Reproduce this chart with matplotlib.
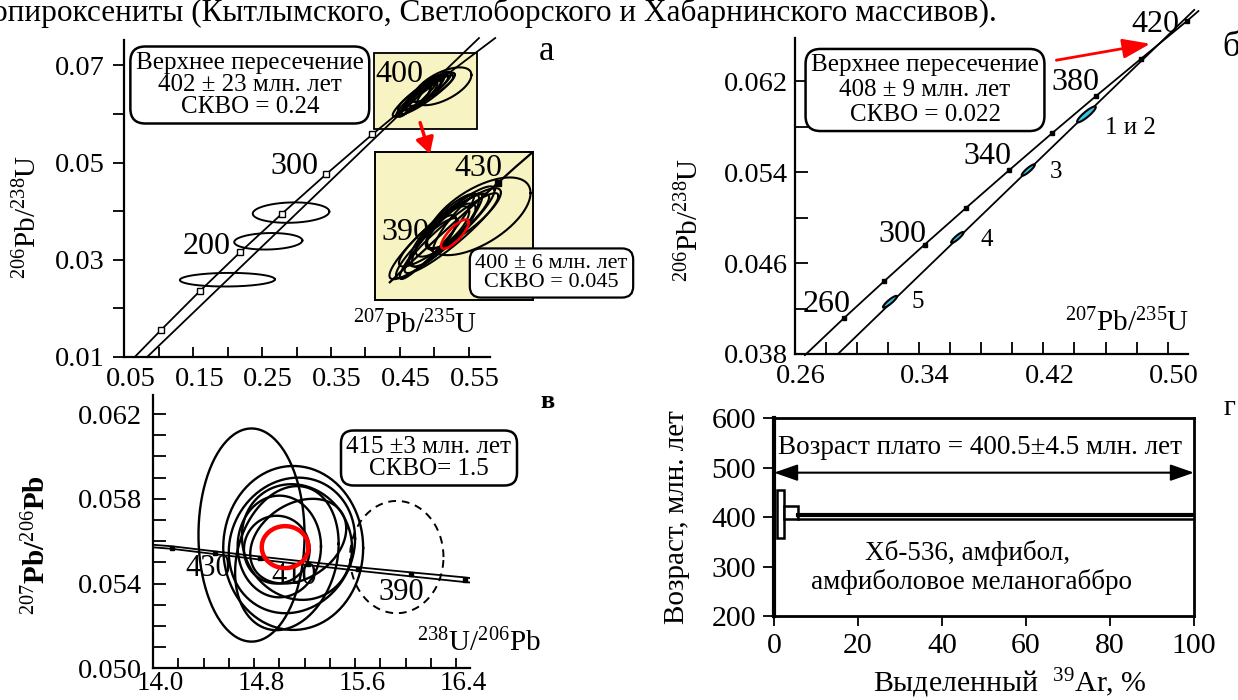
import numpy as np
import matplotlib
matplotlib.use('Agg')
import matplotlib.pyplot as plt
import matplotlib.transforms as mtransforms
from matplotlib.patches import Rectangle, FancyArrowPatch

plt.rcParams['font.family'] = ['Liberation Serif', 'DejaVu Serif']
plt.rcParams['mathtext.fontset'] = 'custom'
plt.rcParams['mathtext.rm'] = 'Liberation Serif'
plt.rcParams['mathtext.it'] = 'Liberation Serif:italic'
plt.rcParams['mathtext.bf'] = 'Liberation Serif:bold'

W, H = 1238, 700

# ---- panel a: concordia 207Pb/235U - 206Pb/238U
conc_a_x = [0.065, 0.1035, 0.1592, 0.2177, 0.2790, 0.3431, 0.4102, 0.4803, 0.5576, 0.5885]
conc_a_y = [0.0100, 0.0156, 0.0235, 0.0315, 0.0395, 0.0476, 0.0558, 0.0640, 0.0723, 0.0756]
conc_a_mark = [1, 2, 3, 4, 5, 6]          # indexes of 100..350 Ma marks
disc_a_x = [0.083, 0.565]
disc_a_y = [0.010, 0.0756]
# low-age zircons (x, sx, y, sy, rho)
ell_a_low = [(0.292, 0.0556, 0.0397, 0.0021, 0.1),
             (0.259, 0.0495, 0.0338, 0.0017, 0.1),
             (0.1996, 0.069, 0.0259, 0.0014, 0.05)]
# cluster near 400 Ma
ell_a_cl = [(0.512, 0.042, 0.06568, 0.00389, 0.6),
            (0.4823, 0.0426, 0.06403, 0.00465, 0.92),
            (0.4839, 0.0365, 0.0643, 0.00365, 0.9),
            (0.4839, 0.0284, 0.0643, 0.00365, 0.85),
            (0.4853, 0.0243, 0.0643, 0.00266, 0.8),
            (0.4867, 0.0176, 0.06453, 0.00216, 0.75),
            (0.478, 0.030, 0.0636, 0.0042, 0.95),
            (0.495, 0.020, 0.0650, 0.0030, 0.9),
            (0.470, 0.025, 0.0625, 0.0030, 0.9),
            (0.500, 0.030, 0.0655, 0.0030, 0.85),
            (0.490, 0.038, 0.0640, 0.0040, 0.93),
            (0.476, 0.018, 0.0632, 0.0026, 0.8)]
ell_a_red = (0.4927, 0.0112, 0.0639, 0.00146, 0.8)
box1 = (0.412, 0.0568, 0.150, 0.0158)
# inset concordia 370..450 Ma
in_x = [0.4400, 0.4539, 0.4685, 0.4829, 0.4975, 0.5123, 0.5273, 0.5424, 0.5576]
in_y = [0.05908, 0.06071, 0.06236, 0.06401, 0.06566, 0.06732, 0.06900, 0.07068, 0.0723]

# ---- panel b
conc_b_x = [0.2667, 0.2918, 0.3175, 0.3437, 0.3705, 0.3978, 0.4255, 0.4539, 0.4829, 0.5123, 0.5197]
conc_b_y = [0.0379, 0.04116, 0.04439, 0.04764, 0.05089, 0.05416, 0.05743, 0.06072, 0.06401, 0.06732, 0.0682]
disc_b_x = [0.2879, 0.517]
disc_b_y = [0.038, 0.0683]
pts_b = [(0.4477, 0.0060, 0.0591, 0.00070, 0.9),
         (0.4103, 0.0042, 0.0542, 0.00050, 0.9),
         (0.3647, 0.0040, 0.04826, 0.00048, 0.9),
         (0.3214, 0.0045, 0.0426, 0.00052, 0.9)]

# ---- panel v: Tera-Wasserburg
tw_x = [14.0, 14.15, 14.49, 14.85, 15.23, 15.62, 16.04, 16.47, 16.51]
tw_y1 = [0.05583, 0.05576, 0.05552, 0.05527, 0.05502, 0.05477, 0.05453, 0.05429, 0.05426]
tw_y2 = [0.05571, 0.05564, 0.05539, 0.05513, 0.05487, 0.05461, 0.05434, 0.05407, 0.05405]
ell_v = [(14.78, 0.42, 0.05629, 0.00503, 0.0),
         (15.11, 0.554, 0.05568, 0.00387, 0.0),
         (15.10, 0.50, 0.0558, 0.0032, 0.1),
         (15.14, 0.436, 0.05596, 0.00273, -0.1),
         (15.06, 0.41, 0.0552, 0.0034, 0.2),
         (15.00, 0.33, 0.05575, 0.0024, 0.0),
         (14.98, 0.26, 0.0556, 0.0016, 0.0),
         (15.15, 0.38, 0.0560, 0.0020, 0.3)]
ell_v_dash = (15.93, 0.37, 0.05525, 0.00265, 0.0)
ell_v_red = (15.046, 0.185, 0.05572, 0.00099, 0.0)

# ---- panel g: Ar-Ar spectrum
ar_start = [0.6, 2.3, 5.6]
ar_end = [2.3, 5.6, 100.0]
age_lo = [357, 396, 396]
age_hi = [455, 423, 405]


def P(x, y):
    return (x / W, 1 - y / H)


def add_ax(l, t, r, b, **kw):
    return fig.add_axes([l / W, 1 - b / H, (r - l) / W, (b - t) / H], **kw)


def outline(x, sx, y, sy, rho):
    t = np.linspace(0, 2 * np.pi, 181)
    return x + sx * np.cos(t), y + sy * (rho * np.cos(t) + np.sqrt(1 - rho ** 2) * np.sin(t))


def ftext(ax, x, y, s, size=21, z=4, **kw):
    ax.text(*P(x, y), s, transform=fig.transFigure, fontsize=size,
            ha=kw.pop('ha', 'center'), va=kw.pop('va', 'center'), zorder=z, **kw)


def shift_xlabels(ax, dx_px):
    off = mtransforms.ScaledTranslation(dx_px / 100, 0, fig.dpi_scale_trans)
    for lab in ax.get_xticklabels():
        lab.set_transform(lab.get_transform() + off)


fig = plt.figure(figsize=(W / 100, H / 100), dpi=100)

fig.text(-8 / W, 1 - 21 / H, 'опироксениты (Кытлымского, Светлоборского и Хабарнинского массивов).',
         fontsize=22.5, va='baseline', ha='left')

# =========== panel a
axa = add_ax(124.4, 40, 490, 357)
axa.set_xlim(0.05, 0.581)
axa.set_ylim(0.01, 0.0752)
for s in ['top', 'right']:
    axa.spines[s].set_visible(False)
for s in ['left', 'bottom']:
    axa.spines[s].set_linewidth(1.6)
axa.set_xticks([0.05, 0.15, 0.25, 0.35, 0.45, 0.55])
axa.set_xticks([0.10, 0.20, 0.30, 0.40, 0.50], minor=True)
axa.set_yticks([0.01, 0.03, 0.05, 0.07])
axa.set_yticks([0.02, 0.04, 0.06], minor=True)
axa.set_xticklabels(['0.05', '0.15', '0.25', '0.35', '0.45', '0.55'])
axa.set_yticklabels(['0.01', '0.03', '0.05', '0.07'])
axa.tick_params(axis='x', which='both', direction='in', length=7, width=1.3, pad=7, labelsize=20.5)
axa.tick_params(axis='y', which='both', direction='out', length=8, width=1.3, pad=6, labelsize=20.5)
shift_xlabels(axa, 6)

axa.add_patch(Rectangle((box1[0], box1[1]), box1[2], box1[3], fc='#f7f3c2', ec='k', lw=1.3, zorder=1))
axa.plot(conc_a_x, conc_a_y, color='k', lw=1.3, zorder=2, clip_on=False)
axa.plot(disc_a_x, disc_a_y, color='k', lw=1.3, zorder=2, clip_on=False)
axa.plot([conc_a_x[i] for i in conc_a_mark], [conc_a_y[i] for i in conc_a_mark], 's',
         ms=5, mfc='white', mec='k', mew=1, zorder=3)
for e in ell_a_low:
    ex, ey = outline(*e)
    axa.plot(ex, ey, color='k', lw=1.4, zorder=3)
for e in ell_a_cl:
    ex, ey = outline(*e)
    axa.plot(ex, ey, color='k', lw=1.5, zorder=3)

ftext(axa, 294, 167, '300', size=23)
ftext(axa, 207, 247, '200', size=23)
ftext(axa, 399, 74, '400', size=23, z=2.5)
ftext(axa, 415, 325, r'$^{207}$Pb/$^{235}$U', size=21)
ftext(axa, 249.8, 85, 'Верхнее пересечение\n402 ± 23 млн. лет\nСКВО = 0.24', size=18,
      linespacing=1.0, bbox=dict(boxstyle='round,pad=0.22,rounding_size=0.6', fc='white', ec='k', lw=1.8))
fig.text(*P(547, 52), 'а', fontsize=25, ha='center', va='center')
fig.text(*P(28, 217), r'$^{206}$Pb/$^{238}$U', fontsize=21, rotation=90, ha='center', va='center')

# inset
axi = add_ax(375, 151.7, 533, 300, facecolor='#f7f3c2')
axi.set_xlim(0.428, 0.556)
axi.set_ylim(0.0573, 0.07215)
axi.set_xticks([])
axi.set_yticks([])
for s in axi.spines.values():
    s.set_linewidth(1.4)
axi.plot(in_x, in_y, color='k', lw=1.6, zorder=2)
axi.plot([in_x[6]], [in_y[6]], 's', ms=4, color='k', zorder=3)
for e in ell_a_cl:
    ex, ey = outline(*e)
    axi.plot(ex, ey, color='k', lw=1.5, zorder=3)
ex, ey = outline(*ell_a_red)
axi.plot(ex, ey, color='red', lw=1.8, zorder=4)
ftext(axi, 478, 168, '430', size=23, z=2.5)
ftext(axi, 405, 233, '390', size=23, z=2.5)

fig.add_artist(FancyArrowPatch(P(419.3, 120), P(430.7, 156.7), transform=fig.transFigure,
                               arrowstyle='-|>,head_length=0.8,head_width=0.45', mutation_scale=12,
                               color='red', lw=2.5))
fig.text(*P(551.5, 273), '400 ± 6 млн. лет\nСКВО = 0.045', fontsize=16, ha='center', va='center',
         linespacing=1.0, zorder=6,
         bbox=dict(boxstyle='round,pad=0.25,rounding_size=0.5', fc='white', ec='k', lw=1.6))

# =========== panel b
axb = add_ax(794.5, 38.3, 1188, 354)
axb.set_xlim(0.26, 0.513)
axb.set_ylim(0.038, 0.0658)
for s in ['top', 'right']:
    axb.spines[s].set_visible(False)
for s in ['left', 'bottom']:
    axb.spines[s].set_linewidth(1.6)
axb.set_xticks([0.26, 0.34, 0.42, 0.50])
axb.set_xticks([0.28, 0.30, 0.32, 0.36, 0.38, 0.40, 0.44, 0.46, 0.48], minor=True)
axb.set_xticklabels(['0.26', '0.34', '0.42', '0.50'])
axb.set_yticks([0.038, 0.046, 0.054, 0.062])
axb.set_yticks([0.042, 0.050, 0.058], minor=True)
axb.set_yticklabels(['0.038', '0.046', '0.054', '0.062'])
axb.tick_params(axis='x', which='both', direction='in', length=9, width=1.3, pad=7, labelsize=20.5)
axb.tick_params(axis='y', which='both', direction='in', length=9, width=1.3, pad=5, labelsize=20.5)
shift_xlabels(axb, 6)
axb.plot(conc_b_x, conc_b_y, color='k', lw=1.3, clip_on=False, zorder=2)
axb.plot(disc_b_x, disc_b_y, color='k', lw=1.3, clip_on=False, zorder=2)
axb.plot(conc_b_x[1:-1], conc_b_y[1:-1], 's', ms=3.5, color='k', clip_on=False, zorder=3)
for e in pts_b:
    ex, ey = outline(*e)
    axb.fill(ex, ey, fc='#33c6e8', ec='k', lw=1.5, zorder=4)
for x, y, s in [(1155, 25, '420'), (1075, 83, '380'), (987, 157, '340'), (902, 234, '300'), (827, 305, '260')]:
    ftext(axb, x, y, s, size=23)
for x, y, s in [(1130, 128, '1 и 2'), (1056, 172, '3'), (987, 240, '4'), (918, 302, '5')]:
    ftext(axb, x, y, s, size=18)
ftext(axb, 1127, 323, r'$^{207}$Pb/$^{235}$U', size=21)
ftext(axb, 925, 90, 'Верхнее пересечение\n408 ± 9 млн. лет\nСКВО = 0.022', size=18,
      linespacing=1.15, bbox=dict(boxstyle='round,pad=0.22,rounding_size=0.6', fc='white', ec='k', lw=1.8))
fig.add_artist(FancyArrowPatch(P(1053.6, 60.7), P(1153, 43.3), transform=fig.transFigure,
                               arrowstyle='-|>,head_length=1.4,head_width=0.5', mutation_scale=12,
                               color='red', lw=2))
fig.text(1222 / W, 1 - 47 / H, 'б', fontsize=25, ha='left', va='center')
fig.text(*P(690, 220), r'$^{206}$Pb/$^{238}$U', fontsize=21, rotation=90, ha='center', va='center')

# =========== panel v
axv = add_ax(153, 395, 470, 668.3)
axv.set_xlim(14.0, 16.51)
axv.set_ylim(0.050, 0.0629)
for s in ['top', 'right']:
    axv.spines[s].set_visible(False)
for s in ['left', 'bottom']:
    axv.spines[s].set_linewidth(1.6)
axv.set_xticks([14.0, 14.8, 15.6, 16.4])
axv.set_xticks([14.2, 14.4, 14.6, 15.0, 15.2, 15.4, 15.8, 16.0, 16.2], minor=True)
axv.set_xticklabels(['14.0', '14.8', '15.6', '16.4'])
axv.set_yticks([0.050, 0.054, 0.058, 0.062])
axv.set_yticks([0.051, 0.052, 0.053, 0.055, 0.056, 0.057, 0.059, 0.060, 0.061], minor=True)
axv.set_yticklabels(['0.050', '0.054', '0.058', '0.062'])
axv.tick_params(axis='x', which='both', direction='in', length=7, width=1.3, pad=2, labelsize=19.5)
axv.tick_params(axis='y', which='both', direction='in', length=9, width=1.3, pad=8, labelsize=20.5)
shift_xlabels(axv, 7)
axv.plot(tw_x, tw_y1, color='k', lw=1.3, zorder=3)
axv.plot(tw_x, tw_y2, color='k', lw=1.3, zorder=3)
axv.plot(tw_x[1:-1], [(a + b) / 2 for a, b in zip(tw_y1[1:-1], tw_y2[1:-1])], 's', ms=3, color='k', zorder=3)
for e in ell_v:
    ex, ey = outline(*e)
    axv.plot(ex, ey, color='k', lw=1.7, zorder=3)
ex, ey = outline(*ell_v_dash)
axv.plot(ex, ey, color='k', lw=1.4, ls=(0, (4, 3)), zorder=3)
ex, ey = outline(*ell_v_red)
axv.plot(ex, ey, color='red', lw=3.2, zorder=4)
ftext(axv, 208, 568, '430', size=22, z=2.5)
ftext(axv, 294, 577, '410', size=22, z=2.5)
ftext(axv, 401, 592, '390', size=22, z=2.5)
ftext(axv, 479, 643, r'$^{238}$U/$^{206}$Pb', size=21)
fig.text(*P(429, 458), '415 ±3 млн. лет\nСКВО= 1.5', fontsize=18, ha='center', va='center',
         linespacing=1.0, bbox=dict(boxstyle='round,pad=0.22,rounding_size=0.5', fc='white', ec='k', lw=1.8))
fig.text(*P(547, 402), 'в', fontsize=19, fontweight='bold', ha='center', va='center')
fig.text(*P(37, 545), r'$^{207}$Pb/$^{206}$Pb', fontsize=21, fontweight='bold', rotation=90,
         ha='center', va='center')

# =========== panel g
axg = add_ax(774, 418.3, 1194, 616)
axg.set_xlim(0, 100)
axg.set_ylim(200, 600)
for s in axg.spines.values():
    s.set_linewidth(2)
axg.spines['left'].set_linewidth(3)
axg.set_xticks([0, 20, 40, 60, 80, 100])
axg.set_yticks([200, 300, 400, 500, 600])
axg.tick_params(axis='x', direction='out', length=7, width=1.3, pad=5, labelsize=21.5)
axg.tick_params(axis='y', direction='out', length=8, width=1.3, pad=5, labelsize=21.5)
for x0, x1, lo, hi in zip(ar_start, ar_end, age_lo, age_hi):
    axg.add_patch(Rectangle((x0, lo), x1 - x0, hi - lo, fc='white', ec='k', lw=1.8, zorder=3))
axg.plot([ar_start[2], ar_end[2]], [age_hi[2], age_hi[2]], color='k', lw=3, zorder=4)
axg.annotate('', xy=(0, 490), xytext=(100, 490),
             arrowprops=dict(arrowstyle='<|-|>,head_length=1.2,head_width=0.42', color='k', lw=1.5,
                             shrinkA=0, shrinkB=0, mutation_scale=12))
axg.text(49, 540, 'Возраст плато = 400.5±4.5 млн. лет', fontsize=19.5, ha='center', va='center')
axg.text(46.2, 327, 'Хб-536, амфибол,', fontsize=19.5, ha='center', va='center')
axg.text(47.1, 269, 'амфиболовое меланогаббро', fontsize=19.5, ha='center', va='center')
fig.text(*P(1010, 683), r'Выделенный  $^{39}$Ar, %', fontsize=21.5, ha='center', va='center')
fig.text(*P(677, 517), 'Возраст, млн. лет', fontsize=21, rotation=90, ha='center', va='center')
fig.text(1224 / W, 1 - 408 / H, 'г', fontsize=21, ha='left', va='center')

fig.savefig('out.png', dpi=100)
